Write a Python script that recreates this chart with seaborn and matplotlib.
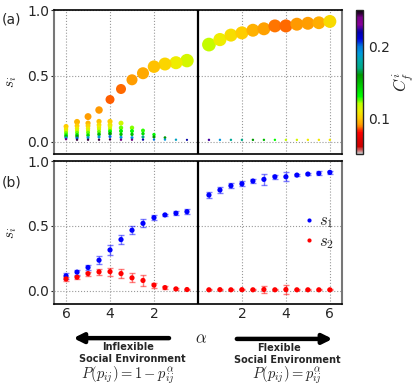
import matplotlib
matplotlib.use('Agg')
import matplotlib.pyplot as plt
import seaborn as sns
import pandas as pd

# alpha values; left half is the inflexible environment (plotted at -alpha)
alpha = [0.5, 1, 1.5, 2, 2.5, 3, 3.5, 4, 4.5, 5, 5.5, 6]

# panel (a): largest group per alpha
top_left_s = [0.616, 0.60, 0.59, 0.57, 0.52, 0.47, 0.40, 0.32, 0.24, 0.19, 0.15, 0.115]
top_left_c = [0.115, 0.110, 0.103, 0.098, 0.093, 0.091, 0.087, 0.086, 0.090, 0.091, 0.096, 0.100]
top_left_n = [0.94, 0.88, 0.87, 0.81, 0.75, 0.63, 0.52, 0.42, 0.29, 0.25, 0.18, 0.13]
top_right_s = [0.738, 0.776, 0.81, 0.827, 0.847, 0.858, 0.88, 0.88, 0.893, 0.90, 0.904, 0.914]
top_right_c = [0.118, 0.110, 0.105, 0.100, 0.095, 0.092, 0.088, 0.087, 0.090, 0.091, 0.094, 0.104]
top_right_n = [0.98, 0.90, 0.88, 0.88, 0.87, 0.87, 0.87, 0.88, 0.87, 0.87, 0.85, 0.87]

# panel (a): smaller groups stacked under the largest one (same alpha order)
stack_left_s = [[0.013], [0.014], [0.03, 0.015], [0.053, 0.035, 0.015],
                [0.084, 0.06, 0.035, 0.015], [0.105, 0.08, 0.055, 0.03, 0.014],
                [0.14, 0.105, 0.08, 0.055, 0.032, 0.014],
                [0.153, 0.127, 0.115, 0.095, 0.078, 0.06, 0.038, 0.016],
                [0.153, 0.127, 0.11, 0.095, 0.075, 0.055, 0.035, 0.014],
                [0.14, 0.12, 0.10, 0.085, 0.068, 0.048, 0.03, 0.014],
                [0.12, 0.10, 0.085, 0.068, 0.05, 0.038, 0.026, 0.014],
                [0.095, 0.08, 0.064, 0.048, 0.038, 0.028, 0.018]]
stack_left_c = [[0.22], [0.185], [0.16, 0.19], [0.132, 0.16, 0.2],
                [0.128, 0.14, 0.17, 0.22], [0.123, 0.13, 0.15, 0.19, 0.24],
                [0.116, 0.125, 0.133, 0.15, 0.19, 0.24],
                [0.1, 0.106, 0.113, 0.12, 0.132, 0.16, 0.2, 0.245],
                [0.098, 0.105, 0.11, 0.116, 0.125, 0.15, 0.19, 0.245],
                [0.096, 0.102, 0.108, 0.116, 0.125, 0.14, 0.19, 0.245],
                [0.1, 0.108, 0.115, 0.125, 0.14, 0.16, 0.2, 0.245],
                [0.105, 0.115, 0.125, 0.135, 0.15, 0.19, 0.24]]
stack_left_n = [[0.025], [0.03], [0.04, 0.03], [0.06, 0.05, 0.03],
                [0.08, 0.06, 0.05, 0.03], [0.1, 0.08, 0.06, 0.05, 0.03],
                [0.13, 0.1, 0.08, 0.06, 0.05, 0.03],
                [0.14, 0.12, 0.1, 0.09, 0.08, 0.07, 0.05, 0.03],
                [0.14, 0.12, 0.1, 0.09, 0.08, 0.07, 0.05, 0.03],
                [0.14, 0.12, 0.1, 0.09, 0.08, 0.07, 0.05, 0.03],
                [0.12, 0.1, 0.09, 0.08, 0.07, 0.06, 0.05, 0.03],
                [0.1, 0.09, 0.08, 0.07, 0.06, 0.05, 0.03]]
small_right_s = [0.013] * 12
small_right_c = [0.225, 0.19, 0.175, 0.17, 0.16, 0.15, 0.13, 0.118, 0.115, 0.11, 0.108, 0.108]
small_right_n = [0.03] * 12

# panel (b): mean and error of s1, s2
s1_left = [0.61, 0.598, 0.585, 0.564, 0.52, 0.467, 0.395, 0.315, 0.236, 0.18, 0.144, 0.115]
e1_left = [0.02, 0.015, 0.01, 0.02, 0.03, 0.03, 0.035, 0.04, 0.03, 0.02, 0.02, 0.02]
s2_left = [0.01, 0.015, 0.025, 0.044, 0.08, 0.10, 0.133, 0.148, 0.146, 0.133, 0.105, 0.092]
e2_left = [0.005, 0.005, 0.01, 0.02, 0.04, 0.035, 0.035, 0.03, 0.025, 0.015, 0.01, 0.015]
s1_right = [0.738, 0.777, 0.81, 0.825, 0.846, 0.859, 0.879, 0.879, 0.892, 0.90, 0.905, 0.913]
e1_right = [0.02, 0.025, 0.02, 0.02, 0.015, 0.04, 0.015, 0.035, 0.01, 0.01, 0.015, 0.01]
s2_right = [0.008, 0.009, 0.008, 0.009, 0.008, 0.01, 0.008, 0.01, 0.008, 0.008, 0.008, 0.008]
e2_right = [0.005, 0.005, 0.005, 0.005, 0.005, 0.03, 0.005, 0.035, 0.005, 0.005, 0.005, 0.005]

tick_pos = [-6, -4, -2, 2, 4, 6]
tick_labels = ['6', '4', '2', '2', '4', '6']

sns.set_style('ticks')
plt.rcParams['font.family'] = ['DejaVu Sans']
plt.rcParams['mathtext.fontset'] = 'cm'

# build tables
xl = [-a for a in alpha]
df_top = pd.DataFrame({'x': xl + alpha, 's': top_left_s + top_right_s,
                       'C': top_left_c + top_right_c, 'n': top_left_n + top_right_n})
rows = []
for a, ss, cc, nn in zip(alpha, stack_left_s, stack_left_c, stack_left_n):
    for s, c, n in zip(ss, cc, nn):
        rows.append({'x': -a, 's': s, 'C': c, 'n': n})
for a, s, c, n in zip(alpha, small_right_s, small_right_c, small_right_n):
    rows.append({'x': a, 's': s, 'C': c, 'n': n})
df_stack = pd.DataFrame(rows)
df_a = pd.concat([df_top, df_stack], ignore_index=True)

df_b = pd.DataFrame({
    'x': (xl + alpha) * 2,
    's': s1_left + s1_right + s2_left + s2_right,
    'err': e1_left + e1_right + e2_left + e2_right,
    'series': ['$s_1$'] * 24 + ['$s_2$'] * 24,
})
colors = {'$s_1$': '#0000ff', '$s_2$': '#ff0000'}

fig = plt.figure(figsize=(4.15, 3.9), dpi=100)
ax_a = fig.add_axes([0.130, 0.605, 0.694, 0.369])
ax_b = fig.add_axes([0.130, 0.221, 0.694, 0.366])
cax = fig.add_axes([0.858, 0.605, 0.017, 0.369])

cmap = 'nipy_spectral_r'
norm = (0.05, 0.25)
sns.scatterplot(data=df_a, x='x', y='s', hue='C', size='n', palette=cmap,
                hue_norm=norm, sizes=(0, 100), size_norm=(0, 1),
                linewidth=0, legend=False, ax=ax_a, zorder=3)

for name, g in df_b.groupby('series'):
    ax_b.errorbar(g['x'], g['s'], yerr=g['err'], fmt='none', ecolor=colors[name],
                  elinewidth=1, capsize=2, alpha=0.5, zorder=2)
sns.scatterplot(data=df_b, x='x', y='s', hue='series', palette=colors,
                s=14, linewidth=0, ax=ax_b, zorder=3)
ax_b.legend(loc='center right', bbox_to_anchor=(1.0, 0.51), frameon=False,
            fontsize=12, handletextpad=0.2, handlelength=0.8, labelspacing=0.1,
            markerscale=0.8, borderaxespad=0.1)

for ax, ylim in [(ax_a, (-0.095, 1.0)), (ax_b, (-0.10, 1.0))]:
    ax.set_xlim(-6.55, 6.55)
    ax.set_ylim(*ylim)
    ax.set_xticks(tick_pos)
    ax.set_yticks([0.0, 0.5, 1.0])
    ax.set_yticklabels(['0.0', '0.5', '1.0'])
    ax.grid(True, linestyle=':', color='#999999', linewidth=0.8)
    ax.axvline(0, color='black', linewidth=1.6, zorder=4)
    ax.set_xlabel('')
    ax.set_ylabel('$s_i$', fontsize=11)
    ax.yaxis.set_label_coords(-0.12, 0.5)
    ax.tick_params(axis='y', labelsize=10, length=2.5, width=0.8, pad=1)
    ax.tick_params(axis='x', labelsize=10, length=0, pad=2)
    for side in ['left', 'right']:
        ax.spines[side].set_color('#777777')
        ax.spines[side].set_linewidth(1.5)
    for side in ['top', 'bottom']:
        ax.spines[side].set_color('black')
        ax.spines[side].set_linewidth(1.2)
ax_a.set_xticklabels([])
ax_b.set_xticklabels(tick_labels)

sm = plt.cm.ScalarMappable(cmap=cmap, norm=plt.Normalize(*norm))
cb = fig.colorbar(sm, cax=cax, ticks=[0.1, 0.2])
cb.ax.tick_params(labelsize=10, length=0)
cb.outline.set_linewidth(1.0)
cb.set_label('$C_f^i$', fontsize=12, labelpad=0)

fig.text(0.005, 0.95, '(a)', fontsize=10, va='center')
fig.text(0.005, 0.533, '(b)', fontsize=10, va='center')

# arrows and annotations below
arrow = dict(arrowstyle='-|>', color='black', lw=3.2, mutation_scale=14)
fig.add_artist(matplotlib.patches.FancyArrowPatch((0.414, 0.133), (0.170, 0.133),
               transform=fig.transFigure, **arrow))
fig.add_artist(matplotlib.patches.FancyArrowPatch((0.564, 0.131), (0.808, 0.131),
               transform=fig.transFigure, **arrow))
fig.text(0.484, 0.133, r'$\alpha$', fontsize=12, ha='center', va='center')
fig.text(0.308, 0.110, 'Inflexible', fontsize=7, fontweight='bold', ha='center', va='center')
fig.text(0.320, 0.080, 'Social Environment', fontsize=7, fontweight='bold', ha='center', va='center')
fig.text(0.672, 0.108, 'Flexible', fontsize=7, fontweight='bold', ha='center', va='center')
fig.text(0.692, 0.077, 'Social Environment', fontsize=7, fontweight='bold', ha='center', va='center')
fig.text(0.308, 0.038, r'$P(p_{ij}) = 1 - p_{ij}^{\alpha}$', fontsize=10.5, ha='center', va='center')
fig.text(0.692, 0.038, r'$P(p_{ij}) = p_{ij}^{\alpha}$', fontsize=10.5, ha='center', va='center')

fig.savefig('out.png', dpi=100)
